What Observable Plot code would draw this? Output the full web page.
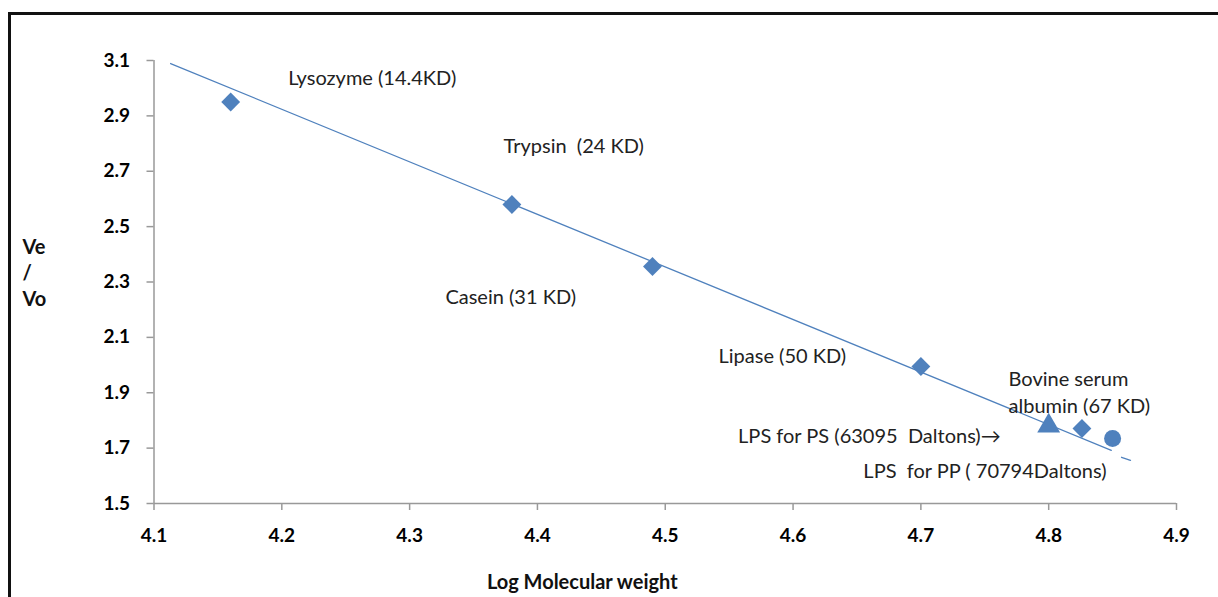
<!DOCTYPE html>
<html>
<head>
<meta charset="utf-8">
<script src="https://cdn.jsdelivr.net/npm/d3@7"></script>
<script src="https://cdn.jsdelivr.net/npm/@observablehq/plot@0.6"></script>
<style>
  html, body { margin: 0; padding: 0; background: #fff; }
  #wrap { position: relative; width: 1218px; height: 597px; overflow: hidden; }
  #frame { position: absolute; left: 8px; top: 12px; right: -10px; bottom: -10px;
           border-left: 3px solid #111; border-top: 3px solid #111; pointer-events: none; }
</style>
</head>
<body>
<div id="wrap"><div id="frame"></div></div>
<script>
// Standards (diamonds)
const proteinNames = ["Lysozyme", "Trypsin", "Casein", "Lipase", "Bovine serum albumin"];
const proteinLogMW = [4.16, 4.38, 4.49, 4.70, 4.826];
const proteinVeVo  = [2.95, 2.58, 2.356, 1.995, 1.771];

// Samples
const lpsPSLogMW = [4.80];
const lpsPSVeVo  = [1.78];
const lpsPPLogMW = [4.85];
const lpsPPVeVo  = [1.735];

// Trend line (solid part and dashed tail)
const trendX = [4.113, 4.849];
const trendY = [3.089, 1.692];
const tailX  = [4.857, 4.864];
const tailY  = [1.667, 1.656];

// Annotations
const labelTexts = ["Lysozyme (14.4KD)", "Trypsin  (24 KD)", "Casein (31 KD)", "Lipase (50 KD)",
                    "Bovine serum", "albumin (67 KD)", "LPS for PS (63095  Daltons)\u2192", "LPS  for PP ( 70794Daltons)"];
const labelX = [4.205, 4.3735, 4.328, 4.5417, 4.7686, 4.7686, 4.557, 4.655];
const labelY = [3.035, 2.790, 2.244, 2.031, 1.948, 1.851, 1.743, 1.616];

const xTicks = [4.1, 4.2, 4.3, 4.4, 4.5, 4.6, 4.7, 4.8, 4.9];
const yTicks = [1.5, 1.7, 1.9, 2.1, 2.3, 2.5, 2.7, 2.9, 3.1];

const proteins = proteinNames.map((n, i) => ({n, x: proteinLogMW[i], y: proteinVeVo[i]}));
const ps = lpsPSLogMW.map((x, i) => ({x, y: lpsPSVeVo[i]}));
const pp = lpsPPLogMW.map((x, i) => ({x, y: lpsPPVeVo[i]}));
const trend = trendX.map((x, i) => ({x, y: trendY[i]}));
const tail = tailX.map((x, i) => ({x, y: tailY[i]}));
const labels = labelTexts.map((t, i) => ({t, x: labelX[i], y: labelY[i]}));

const blue = "#4F81BD";
const font = "Lato, 'Open Sans', sans-serif";

const chart = Plot.plot({
  width: 1218,
  height: 597,
  marginLeft: 153.5,
  marginRight: 42,
  marginTop: 60,
  marginBottom: 94,
  style: {fontFamily: font, background: "transparent", overflow: "visible"},
  x: {domain: [4.1, 4.9], axis: null},
  y: {domain: [1.5, 3.1], axis: null},
  marks: [
    Plot.ruleX([4.1], {stroke: "#999", strokeWidth: 1.5}),
    Plot.ruleY([1.5], {stroke: "#999", strokeWidth: 1.5}),
    Plot.axisX({ticks: xTicks, tickFormat: d3.format(".1f"), tickSize: 7, tickPadding: 18,
                stroke: "#999", strokeWidth: 1.5, fill: "#000", fontSize: 19, fontWeight: "bold", label: null}),
    Plot.axisY({ticks: yTicks, tickFormat: d3.format(".1f"), tickSize: 7, tickPadding: 17,
                stroke: "#999", strokeWidth: 1.5, fill: "#000", fontSize: 19, fontWeight: "bold", label: null}),
    Plot.line(trend, {x: "x", y: "y", stroke: blue, strokeWidth: 1.3}),
    Plot.line(tail, {x: "x", y: "y", stroke: blue, strokeWidth: 1.3}),
    Plot.dot(proteins, {x: "x", y: "y", symbol: "diamond2", r: 8.5, fill: blue, stroke: "none"}),
    Plot.dot(ps, {x: "x", y: "y", symbol: "triangle", r: 8.5, fill: blue, stroke: "none"}),
    Plot.dot(pp, {x: "x", y: "y", symbol: "circle", r: 8.5, fill: blue, stroke: "none"}),
    Plot.text(labels, {x: "x", y: "y", text: "t", textAnchor: "start", lineAnchor: "middle",
                       fontSize: 20, fill: "#222"}),
    Plot.text(["Ve\n/\nVo"], {frameAnchor: "top-left", dx: -131.5, dy: 211, textAnchor: "start",
                              lineAnchor: "middle", lineHeight: 1.3, fontSize: 20, fontWeight: "bold", fill: "#111"}),
    Plot.text(["Log Molecular weight"], {frameAnchor: "bottom", dx: -83, dy: 79, lineAnchor: "middle",
                                         fontSize: 20, fontWeight: "bold", fill: "#111"})
  ]
});
document.getElementById("wrap").prepend(chart);
</script>
</body>
</html>
